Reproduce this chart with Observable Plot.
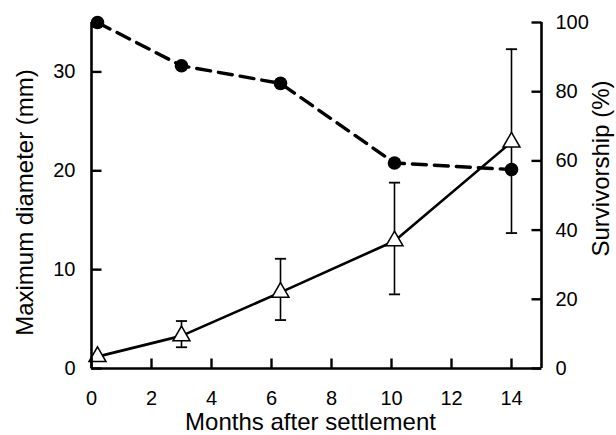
<!DOCTYPE html>
<html>
<head>
<meta charset="utf-8">
<script src="https://cdn.jsdelivr.net/npm/d3@7"></script>
<script src="https://cdn.jsdelivr.net/npm/@observablehq/plot@0.6"></script>
<style>
  html, body { margin: 0; padding: 0; background: #fff; }
  #chart { width: 616px; height: 435px; }
</style>
</head>
<body>
<div id="chart"></div>
<script>
// Months after settlement
const months = [0.2, 3, 6.3, 10.1, 14];
// Maximum diameter (mm): mean, lower and upper error bar
const diameter = [1.2, 3.3, 7.7, 12.9, 22.9];
const diamLow  = [null, 2.15, 4.9, 7.5, 13.7];
const diamHigh = [null, 4.8, 11.1, 18.8, 32.3];
// Survivorship (%)
const survivorship = [100, 87.5, 82.4, 59.4, 57.5];

const xTicks = [0, 2, 4, 6, 8, 10, 12, 14];
const diamTicks = [0, 10, 20, 30];
const survTicks = [0, 20, 40, 60, 80, 100];

const diamMax = 35;   // left axis top (mm) corresponds to 100 %
const xMax = 15;
const toMM = (p) => p * diamMax / 100;

const rows = months.map((m, i) => ({
  month: m,
  diam: diameter[i],
  lo: diamLow[i],
  hi: diamHigh[i],
  surv: survivorship[i]
}));
const bars = rows.filter(d => d.lo != null);

// marker shapes (pure styling)
const capSymbol = {
  draw(context, size) {
    const w = Math.sqrt(size) / 2;
    context.moveTo(-w, 0);
    context.lineTo(w, 0);
  }
};
const TICK = 10;
const tickUp = { draw(c) { c.moveTo(0, 0); c.lineTo(0, -TICK); } };
const tickRight = { draw(c) { c.moveTo(0, 0); c.lineTo(TICK, 0); } };
const tickLeft = { draw(c) { c.moveTo(0, 0); c.lineTo(-TICK, 0); } };

const font = "'Liberation Sans', Arial, Helvetica, sans-serif";

const chart = Plot.plot({
  width: 616,
  height: 435,
  marginLeft: 91,
  marginRight: 75,
  marginTop: 22,
  marginBottom: 67,
  style: { fontFamily: font, background: "#fff", color: "#000", overflow: "visible" },
  x: { domain: [0, xMax] },
  y: { domain: [0, diamMax] },
  marks: [
    // error bars
    Plot.ruleX(bars, { x: "month", y1: "lo", y2: "hi", stroke: "#000", strokeWidth: 1.6 }),
    Plot.dot(bars, { x: "month", y: "lo", symbol: capSymbol, r: 6.3, stroke: "#000", strokeWidth: 1.8, fill: "none" }),
    Plot.dot(bars, { x: "month", y: "hi", symbol: capSymbol, r: 6.3, stroke: "#000", strokeWidth: 1.8, fill: "none" }),
    // survivorship (dashed)
    Plot.line(rows, { x: "month", y: d => toMM(d.surv), stroke: "#000", strokeWidth: 3.4, strokeDasharray: "14,8" }),
    Plot.dot(rows, { x: "month", y: d => toMM(d.surv), r: 6.8, fill: "#000", stroke: "none" }),
    // diameter (solid)
    Plot.line(rows, { x: "month", y: "diam", stroke: "#000", strokeWidth: 2.6 }),
    Plot.dot(rows, { x: "month", y: "diam", symbol: "triangle", r: 6.3, fill: "#fff", stroke: "#000", strokeWidth: 1.5 }),
    // axis lines
    Plot.ruleX([0], { stroke: "#000", strokeWidth: 2.6 }),
    Plot.ruleX([xMax], { stroke: "#000", strokeWidth: 2.6 }),
    Plot.ruleY([0], { stroke: "#000", strokeWidth: 2.6 }),
    // inward tick marks
    Plot.dot(xTicks, { x: d => d, y: 0, symbol: tickUp, stroke: "#000", strokeWidth: 2.4, fill: "none" }),
    Plot.dot(diamTicks, { x: 0, y: d => d, symbol: tickRight, stroke: "#000", strokeWidth: 2.4, fill: "none" }),
    Plot.dot(survTicks, { x: xMax, y: d => toMM(d), symbol: tickLeft, stroke: "#000", strokeWidth: 2.4, fill: "none" }),
    // tick labels
    Plot.axisX({ anchor: "bottom", ticks: xTicks, tickSize: 0, tickPadding: 22, fontSize: 20, label: null, tickFormat: d => String(d) }),
    Plot.axisY({ anchor: "left", ticks: diamTicks, tickSize: 0, tickPadding: 16, fontSize: 20, label: null, tickFormat: d => String(d) }),
    Plot.axisY(survTicks.map(toMM), { anchor: "right", tickSize: 0, tickPadding: 14, fontSize: 20, label: null, tickFormat: (d, i) => String(survTicks[i]) }),
    // axis titles
    Plot.text(["Maximum diameter (mm)"], { frameAnchor: "left", textAnchor: "middle", lineAnchor: "middle", text: d => d, rotate: -90, dx: -66, dy: 7, fontSize: 24, fill: "#000" }),
    Plot.text(["Survivorship (%)"], { frameAnchor: "right", textAnchor: "middle", lineAnchor: "middle", text: d => d, rotate: -90, dx: 60, dy: -27, fontSize: 24, fill: "#000" }),
    Plot.text(["Months after settlement"], { frameAnchor: "bottom", textAnchor: "middle", lineAnchor: "middle", text: d => d, dx: -6, dy: 54, fontSize: 24, fill: "#000" })
  ]
});

document.getElementById("chart").appendChild(chart);
</script>
</body>
</html>
